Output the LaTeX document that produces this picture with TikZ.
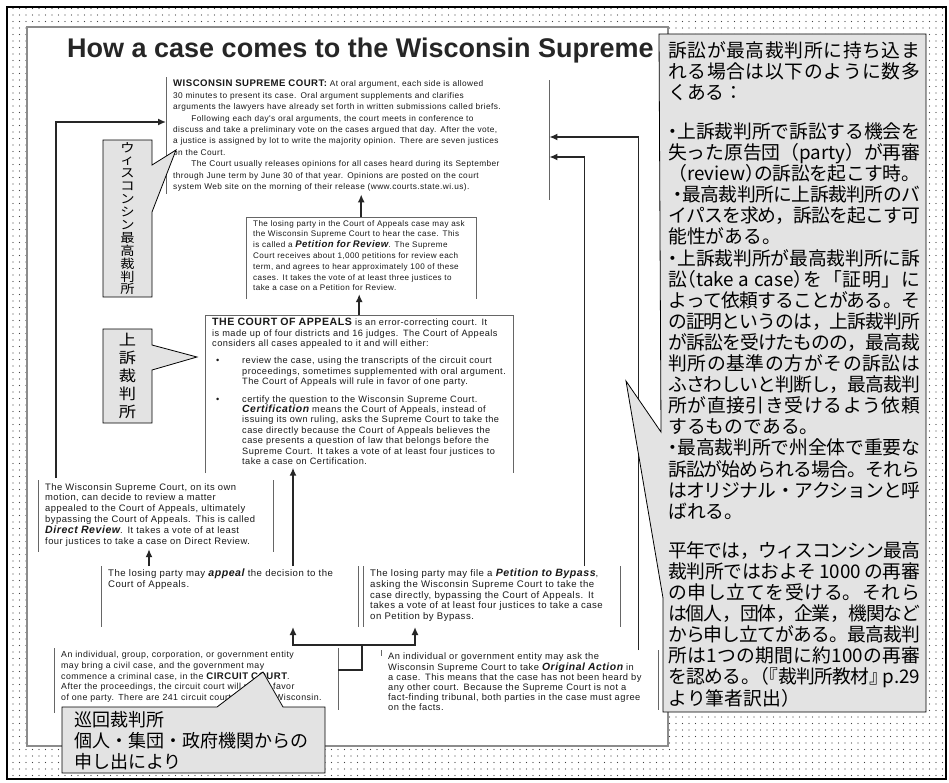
\documentclass[tikz,border=0pt]{standalone}
\usepackage{fontspec}
\setmainfont{Liberation Sans}
\newfontfamily\engfont[LetterSpace=5]{Liberation Sans}
\newfontfamily\jpfont{Noto Sans CJK JP}
\newfontfamily\jpwide[FakeStretch=1.15]{Noto Sans CJK JP}
\usetikzlibrary{positioning, arrows.meta, patterns}

\pgfdeclarepatternformonly{sparsedots}{\pgfqpoint{-1pt}{-1pt}}{\pgfqpoint{1pt}{1pt}}{\pgfqpoint{6.5pt}{6.5pt}}{\pgfpathcircle{\pgfqpoint{0pt}{0pt}}{0.55pt}\pgfusepath{fill}}

\newcommand\hdot{\leavevmode\kern-.25em・\kern-.25em}
\newcommand\tuck{\kern-.5em}
\newcommand\jpjustify{\XeTeXlinebreaklocale "ja" \XeTeXlinebreakskip 0pt plus 4pt minus 1.5pt\relax \parindent 0pt\relax}

\tikzset{
  blurb/.style={anchor=north west, align=left, inner xsep=7pt, inner ysep=3pt, text=black!90},
  bar/.style={draw=black!60, line width=1pt},
  arr/.style={draw=black!85, line width=1.5pt, -{Latex[length=8pt,width=7pt]}},
  link/.style={draw=black!85, line width=1.5pt},
  callout/.style={fill=black!11, draw=black, line width=0.8pt},
  note/.style={anchor=north west, align=justify, inner sep=0pt, text width=252pt,
    font=\jpfont\fontsize{18.8}{21.1}\selectfont},
  vlabel/.style={inner sep=0pt, align=center}
}

\begin{document}
\begin{tikzpicture}[x=1pt, y=-1pt]
\useasboundingbox (0,0) rectangle (949,782);
\fill[white] (0,0) rectangle (949,782);
\fill[pattern=sparsedots, pattern color=black!75] (7,7) rectangle (946,779);
\draw[line width=2pt] (7,7) rectangle (946,779);
\filldraw[fill=white, draw=black!45, line width=2.5pt] (27,27) rectangle (668,746);

\node[anchor=base west, inner sep=0pt, font=\bfseries\fontsize{27}{30}\selectfont, text=black!85] (title) at (67,57) {How a case comes to the Wisconsin Supreme};

\node[blurb, text width=369pt, font=\engfont\fontsize{8.3}{11.4}\selectfont] (sup) at (166,77)
{{\bfseries\fontsize{9.6}{11.4}\selectfont WISCONSIN SUPREME COURT:} At oral argument, each side is allowed\\
30 minutes to present its case. Oral argument supplements and clarifies\\
arguments the lawyers have already set forth in written submissions called briefs.\\
\hspace*{2.2em}Following each day's oral arguments, the court meets in conference to\\
discuss and take a preliminary vote on the cases argued that day. After the vote,\\
a justice is assigned by lot to write the majority opinion. There are seven justices\\
on the Court.\\
\hspace*{2.2em}The Court usually releases opinions for all cases heard during its September\\
through June term by June 30 of that year. Opinions are posted on the court\\
system Web site on the morning of their release (www.courts.state.wi.us).};
\draw[bar] (sup.north west) -- ++(0,117) (sup.north east) ++(0,3) -- ++(0,120);

\node[blurb, text width=216pt, font=\engfont\fontsize{8.1}{10.8}\selectfont] (review) at (246,217)
{The losing party in the Court of Appeals case may ask\\
the Wisconsin Supreme Court to hear the case. This\\
is called a {\bfseries\itshape\fontsize{9.6}{10.8}\selectfont Petition for Review}. The Supreme\\
Court receives about 1,000 petitions for review each\\
term, and agrees to hear approximately 100 of these\\
cases. It takes the vote of at least three justices to\\
take a case on a Petition for Review.};
\draw[bar] (review.north west) ++(0,82) -- (review.north west) -- (review.north east) -- ++(0,82);

\node[blurb, text width=294pt, font=\engfont\fontsize{9.2}{10.4}\selectfont] (appeals) at (205,315)
{{\bfseries\fontsize{10.6}{10.4}\selectfont THE COURT OF APPEALS} is an error-correcting court. It\\
is made up of four districts and 16 judges. The Court of Appeals\\
considers all cases appealed to it and will either:\\[7pt]
\makebox[30pt][l]{\hspace{4pt}\textbullet}review the case, using the transcripts of the circuit court\\
\hspace*{30pt}proceedings, sometimes supplemented with oral argument.\\
\hspace*{30pt}The Court of Appeals will rule in favor of one party.\\[7pt]
\makebox[30pt][l]{\hspace{4pt}\textbullet}certify the question to the Wisconsin Supreme Court.\\
\hspace*{30pt}{\bfseries\itshape\fontsize{10.4}{10.4}\selectfont Certification} means the Court of Appeals, instead of\\
\hspace*{30pt}issuing its own ruling, asks the Supreme Court to take the\\
\hspace*{30pt}case directly because the Court of Appeals believes the\\
\hspace*{30pt}case presents a question of law that belongs before the\\
\hspace*{30pt}Supreme Court. It takes a vote of at least four justices to\\
\hspace*{30pt}take a case on Certification.};
\draw[bar] (appeals.north west) ++(0,158) -- (appeals.north west) -- (appeals.north east) -- ++(0,158);

\node[blurb, text width=221pt, font=\engfont\fontsize{9.4}{10.8}\selectfont] (direct) at (38,480)
{The Wisconsin Supreme Court, on its own\\
motion, can decide to review a matter\\
appealed to the Court of Appeals, ultimately\\
bypassing the Court of Appeals. This is called\\
{\bfseries\itshape\fontsize{10.6}{10.8}\selectfont Direct Review}. It takes a vote of at least\\
four justices to take a case on Direct Review.};
\draw[bar] (direct.north west) -- ++(0,72) (direct.north east) -- ++(0,72);

\node[blurb, text width=243pt, font=\engfont\fontsize{9.6}{11}\selectfont] (appeal) at (101,566)
{The losing party may {\bfseries\itshape\fontsize{10.6}{11}\selectfont appeal} the decision to the\\
Court of Appeals.};
\draw[bar] (appeal.north west) -- ++(0,61) (appeal.north east) -- ++(0,61);

\node[blurb, text width=243pt, font=\engfont\fontsize{9.6}{10.6}\selectfont] (bypass) at (363,566)
{The losing party may file a {\bfseries\itshape\fontsize{10.6}{10.6}\selectfont Petition to Bypass},\\
asking the Wisconsin Supreme Court to take the\\
case directly, bypassing the Court of Appeals. It\\
takes a vote of at least four justices to take a case\\
on Petition by Bypass.};
\draw[bar] (bypass.north west) -- ++(0,61) (bypass.north east) -- ++(0,61);

\node[blurb, text width=270pt, font=\engfont\fontsize{8.8}{10.8}\selectfont] (circuit) at (54,648)
{An individual, group, corporation, or government entity\\
may bring a civil case, and the government may\\
commence a criminal case, in the {\bfseries\fontsize{9.6}{10.8}\selectfont CIRCUIT COURT}.\\
After the proceedings, the circuit court will rule in favor\\
of one party. There are 241 circuit court judges in Wisconsin.};
\draw[bar] (circuit.north west) -- ++(0,65) (circuit.north east) -- ++(0,62);

\node[blurb, text width=263pt, font=\engfont\fontsize{9.3}{10.2}\selectfont] (original) at (381,650)
{An individual or government entity may ask the\\
Wisconsin Supreme Court to take {\bfseries\itshape\fontsize{10.4}{10.2}\selectfont Original Action} in\\
a case. This means that the case has not been heard by\\
any other court. Because the Supreme Court is not a\\
fact-finding tribunal, both parties in the case must agree\\
on the facts.};
\draw[bar] (original.north west) -- ++(0,6) (original.north east) -- ++(0,60);

\coordinate (split) at (362,645);
\draw[arr] ([xshift=18pt,yshift=2pt]direct.north west) |- ([yshift=-45pt]sup.north west);
\draw[arr] ([xshift=-36pt]bypass.north east) |- ([yshift=-80pt]sup.north east);
\draw[arr] ([xshift=-20pt]original.north east) |- ([yshift=-60pt]sup.north east);
\draw[arr] (review.north) -- (review.north |- sup.south);
\draw[arr] (appeals.north) -- (appeals.north |- review.south);
\draw[arr] ([xshift=192pt]appeal.north west) -- ([xshift=192pt]appeal.north west |- appeals.south);
\draw[arr] ([xshift=48pt]appeal.north west) -- ([xshift=48pt]appeal.north west |- direct.south);
\draw[link] ([yshift=-22pt]circuit.north east) -| (split);
\draw[arr] (split) -| ([xshift=192pt,yshift=-61pt]appeal.north west);
\draw[arr] (split) -| ([xshift=52pt,yshift=-61pt]bypass.north west);

\filldraw[callout] (659,34) -- (926,34) -- (926,712) -- (663,712) -- (663,598) -- (626,381) -- (661,432) -- cycle;
\node[note] (jpnote) at (668,41)
{\jpjustify
訴訟が最高裁判所に持ち込ま\linebreak%
れる場合は以下のように数多\linebreak%
くある：\par\vspace{18pt}%
\hdot 上訴裁判所で訴訟する機会を\linebreak%
失った原告団（party）が再審\linebreak%
\tuck（review）\tuck の訴訟を起こす時。\linebreak%
\hdot 最高裁判所に上訴裁判所のバ\linebreak%
イパスを求め，訴訟を起こす可\linebreak%
能性がある。\par%
\hdot 上訴裁判所が最高裁判所に訴\linebreak%
訟\tuck（take a case）\tuck を「証明」に\linebreak%
よって依頼することがある。そ\linebreak%
の証明というのは，上訴裁判所\linebreak%
が訴訟を受けたものの，最高裁\linebreak%
判所の基準の方がその訴訟は\linebreak%
ふさわしいと判断し，最高裁判\linebreak%
所が直接引き受けるよう依頼\linebreak%
するものである。\par%
\hdot 最高裁判所で州全体で重要な\linebreak%
訴訟が始められる場合。それら\linebreak%
はオリジナル・アクションと呼\linebreak%
ばれる。\par\vspace{18pt}%
平年では，ウィスコンシン最高\linebreak%
裁判所ではおよそ\,1000\,の再審\linebreak%
の申し立てを受ける。それら\linebreak%
は個人，団体，企業，機関など\linebreak%
から申し立てがある。最高裁判\linebreak%
所は1つの期間に約100の再審\linebreak%
を認める。\tuck（\tuck『裁判所教材』\kern-.3em p.29\linebreak%
より筆者訳出）};

\filldraw[callout] (103,140) -- (152,140) -- (152,165) -- (176,150) -- (152,212) -- (152,297) -- (103,297) -- cycle;
\node[vlabel, font=\jpwide\fontsize{12.4}{12.9}\selectfont] (jpsup) at (127.5,218.5)
{ウ\\ィ\\ス\\コ\\ン\\シ\\ン\\最\\高\\裁\\判\\所};

\filldraw[callout] (103,329) -- (152,329) -- (152,345) -- (197,357) -- (152,370) -- (152,423) -- (103,423) -- cycle;
\node[vlabel, font=\jpwide\fontsize{15}{18}\selectfont] (jpapp) at (127.5,376) {上\\訴\\裁\\判\\所};

\filldraw[callout] (62,707) -- (217,707) -- (263,672) -- (283,707) -- (325,707) -- (325,773) -- (62,773) -- cycle;
\node[anchor=north west, align=left, inner sep=0pt, font=\jpfont\fontsize{18}{21}\selectfont] (jpcircuit) at (74,711)
{巡回裁判所\\個人・集団・政府機関からの\\申し出により};
\end{tikzpicture}
\end{document}
